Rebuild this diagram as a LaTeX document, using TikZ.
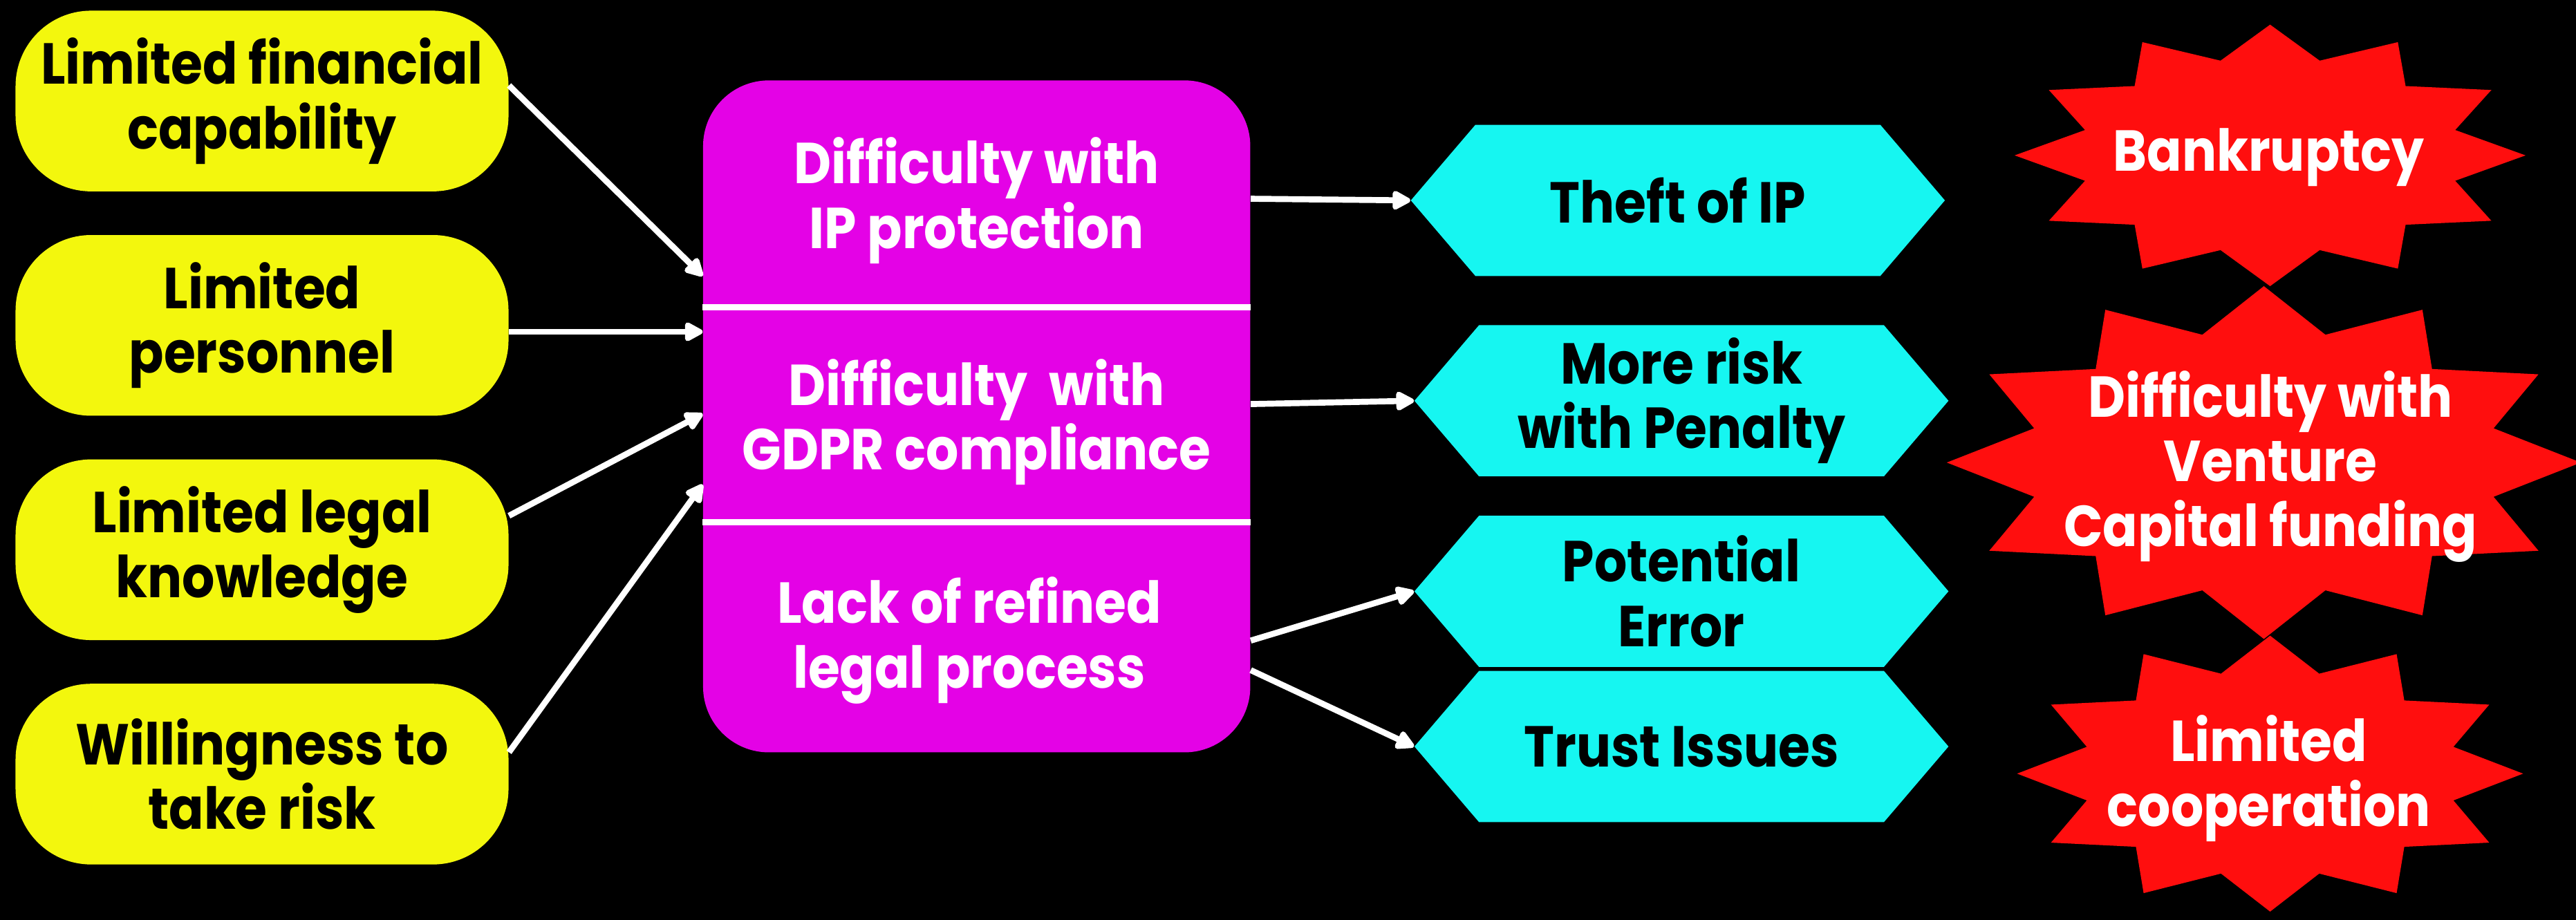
\documentclass[tikz,border=0pt]{standalone}
\usepackage{fontspec}
\newfontfamily\labelfont{Poppins}[FakeStretch=0.89]
\usepackage{tikz}
\usetikzlibrary{positioning, shapes.symbols, arrows.meta}
\definecolor{causeyellow}{HTML}{F3F70D}
\definecolor{issuemagenta}{HTML}{E402E6}
\definecolor{outcomecyan}{HTML}{16F6F1}
\definecolor{burstred}{HTML}{FF0E0E}
% twelve-pointed burst: centre x, centre y, half width, half height
\newcommand\burst[4]{\fill[burstred] plot[variable=\k, samples at={0,...,23}]
  ({#1+(1-0.25*mod(\k,2))*#3*cos(15*\k)}, {#2+(1-0.25*mod(\k,2))*#4*sin(15*\k)}) -- cycle;}

\begin{document}
\begin{tikzpicture}[x=0.025cm, y=-0.025cm,
    font=\labelfont\bfseries\fontsize{25}{28}\selectfont,
    cause/.style={rectangle, rounded corners=1.15cm, fill=causeyellow, text=black,
      minimum width=7.5cm, minimum height=2.75cm, align=center},
    issue/.style={rectangle, rounded corners=1cm, fill=issuemagenta,
      minimum width=8.325cm, minimum height=10.225cm},
    outcome/.style={signal, signal to=east and west, signal pointer angle=99,
      fill=outcomecyan, text=black, minimum width=8.125cm, minimum height=2.3cm,
      align=center, inner sep=0pt},
    whitetext/.style={text=white, align=center},
    link/.style={draw=white, line width=2.6pt, -{Triangle[round, length=9pt, width=9pt]}}]
  \fill[black] (0,0) rectangle (1568,560);
  \useasboundingbox (0,0) rectangle (1568,560);

  \node[cause] (finance) at (159.5,61.5) {Limited financial\\capability};
  \node[cause, below=0.65cm of finance] (staff) {Limited\\personnel};
  \node[cause, below=0.65cm of staff] (legal) {Limited legal\\knowledge};
  \node[cause, below=0.65cm of legal] (willing) {Willingness to\\take risk};

  \node[issue] (core) at (594.5,253.5) {};
  \draw[white, line width=2.5pt] (core.west |- 0,187) -- (core.east |- 0,187);
  \draw[white, line width=2.5pt] (core.west |- 0,318) -- (core.east |- 0,318);
  \node[whitetext] (ipissue) at (594.5,122) {Difficulty with\\IP protection};
  \node[whitetext] (gdpr) at (594.5,257) {Difficulty\ \ with\\GDPR compliance};
  \node[whitetext] (process) at (590,390) {Lack of refined\\legal process};

  \node[outcome] (theft) at (1021.3,122) {Theft of IP};
  \node[outcome] (penalty) at (1023.5,244) {More risk\\with Penalty};
  \node[outcome] (error) at (1023.5,360) {Potential\\Error};
  \node[outcome] (trust) at (1023.5,454.5) {Trust Issues};

  \burst{1381.8}{94.6}{155.5}{79.6}
  \burst{1378}{281.6}{193}{107.4}
  \burst{1381.8}{471}{154}{84}
  \node[whitetext] (bankrupt) at (1381,96) {Bankruptcy};
  \node[whitetext] (funding) at (1382,284) {Difficulty with\\Venture\\Capital funding};
  \node[whitetext] (coop) at (1381,474) {Limited\\cooperation};

  \draw[link] (finance.east |- 0,52) -- (core.west |- 0,168);
  \draw[link] (staff.east |- 0,202) -- (core.west |- 0,202);
  \draw[link] (legal.east |- 0,314) -- (core.west |- 0,252);
  \draw[link] (willing.east |- 0,458) -- (core.west |- 0,295);
  \draw[link] (core.east |- 0,121) -- (theft.west);
  \draw[link] (core.east |- 0,246) -- (penalty.west);
  \draw[link] (core.east |- 0,390) -- (error.west);
  \draw[link] (core.east |- 0,408) -- (trust.west);
\end{tikzpicture}
\end{document}
